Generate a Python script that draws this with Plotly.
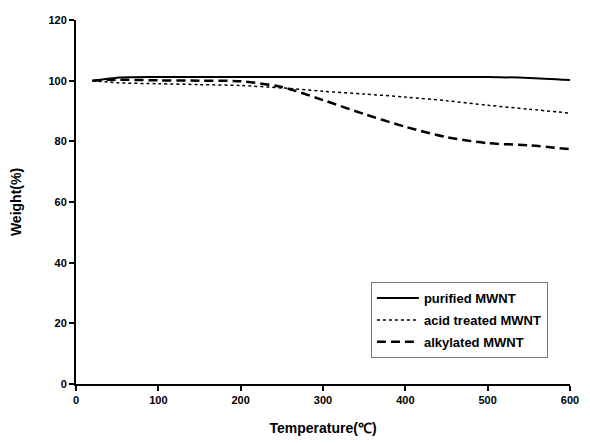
import plotly.graph_objects as go

temps = [20, 50, 100, 150, 200, 250, 300, 350, 400, 450, 500, 550, 600]
purified = [100, 101.0, 101.2, 101.2, 101.2, 101.2, 101.2, 101.2, 101.2, 101.2, 101.2, 100.9, 100.2]
acid = [100, 99.3, 99.0, 98.7, 98.4, 97.6, 96.5, 95.6, 94.6, 93.4, 91.9, 90.6, 89.3]
alkyl = [100, 100.3, 100.1, 100.0, 99.8, 97.9, 93.6, 89.0, 84.8, 81.4, 79.4, 78.7, 77.4]

names = ["purified MWNT", "acid treated MWNT", "alkylated MWNT"]
xticks = [0, 100, 200, 300, 400, 500, 600]
yticks = [0, 20, 40, 60, 80, 100, 120]

fig = go.Figure()
fig.add_trace(go.Scatter(x=temps, y=purified, name=names[0], mode="lines", legendgroup="a",
                         line=dict(color="black", width=2, shape="spline", smoothing=0.8)))
fig.add_trace(go.Scatter(x=temps, y=acid, name=names[1], mode="lines", legendgroup="b",
                         line=dict(color="black", width=1.5, dash="dot", shape="spline", smoothing=0.8)))
fig.add_trace(go.Scatter(x=temps, y=alkyl, name=names[2], mode="lines", legendgroup="c",
                         line=dict(color="black", width=2.5, dash="9px,5px", shape="spline", smoothing=0.8)))

font = "Liberation Sans, Arial, sans-serif"
fig.update_layout(
    width=590, height=443,
    margin=dict(l=76, r=20, t=20, b=59, autoexpand=False),
    paper_bgcolor="white", plot_bgcolor="white",
    font=dict(family=font, color="black"),
    legend=dict(x=0.597, y=0.28, xanchor="left", yanchor="top",
                bordercolor="#777", borderwidth=1, bgcolor="white",
                font=dict(size=13, family=font, weight="bold"), itemwidth=42,
                traceorder="grouped", tracegroupgap=2),
)
fig.update_xaxes(range=[0, 600], tickvals=xticks, showgrid=False, zeroline=False,
                 showline=True, linecolor="black", linewidth=2, automargin=False,
                 ticks="outside", ticklen=5, tickwidth=2, tickcolor="black",
                 tickfont=dict(size=11, family=font, weight="bold"),
                 title=dict(text="Temperature(℃)", font=dict(size=14, family=font, weight="bold"), standoff=18))
fig.update_yaxes(range=[0, 120], tickvals=yticks, showgrid=False, zeroline=False,
                 showline=True, linecolor="black", linewidth=2, automargin=False,
                 ticks="outside", ticklen=5, tickwidth=2, tickcolor="black",
                 tickfont=dict(size=11, family=font, weight="bold"),
                 title=dict(text="Weight(%)", font=dict(size=14, family=font, weight="bold"), standoff=24))

fig.write_html("out.html")
